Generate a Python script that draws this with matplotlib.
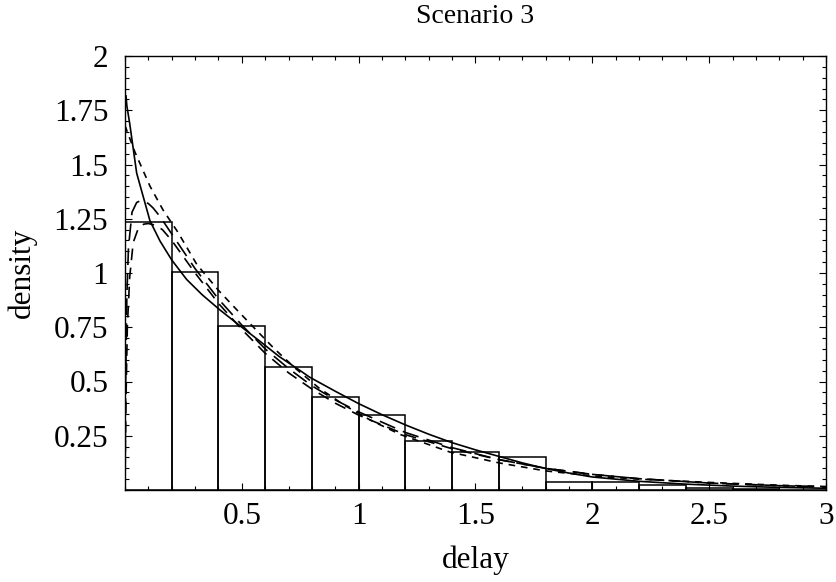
import matplotlib
matplotlib.use("Agg")
import matplotlib.pyplot as plt
from matplotlib.ticker import MultipleLocator, FixedLocator

# Histogram (bin edges and heights)
bin_edges = [0.0, 0.2, 0.4, 0.6, 0.8, 1.0, 1.2, 1.4, 1.6, 1.8, 2.0, 2.2, 2.4, 2.6, 2.8, 3.0]
bin_heights = [1.235, 1.005, 0.757, 0.565, 0.43, 0.345, 0.225, 0.177, 0.153, 0.037, 0.037, 0.025, 0.008, 0.006, 0.0]

# Solid curve
solid_x = [0.004, 0.008, 0.02, 0.05, 0.107, 0.15, 0.2, 0.264, 0.33, 0.406, 0.5, 0.578, 0.66, 0.75, 0.79, 0.9, 1.0, 1.1, 1.2, 1.3, 1.4, 1.5, 1.6, 1.7, 1.8, 1.9, 2.0, 2.2, 2.4, 2.6, 2.8, 3.0]
solid_y = [1.82, 1.77, 1.69, 1.46, 1.24, 1.147, 1.06, 0.97, 0.90, 0.83, 0.75, 0.685, 0.615, 0.55, 0.52, 0.455, 0.398, 0.347, 0.30, 0.257, 0.218, 0.185, 0.155, 0.125, 0.099, 0.078, 0.06, 0.04, 0.027, 0.018, 0.012, 0.008]

# Short-dashed curve
sdash_x = [0.0, 0.01, 0.043, 0.107, 0.163, 0.227, 0.307, 0.4, 0.47, 0.55, 0.64, 0.73, 0.83, 0.94, 1.05, 1.18, 1.39, 1.6, 1.8, 2.03, 2.2, 2.5, 2.8, 3.0]
sdash_y = [1.68, 1.65, 1.556, 1.40, 1.29, 1.187, 1.04, 0.92, 0.84, 0.75, 0.65, 0.56, 0.47, 0.39, 0.322, 0.255, 0.175, 0.125, 0.088, 0.062, 0.05, 0.035, 0.022, 0.016]

# Long-dashed curve (hump)
ldash_x = [0.0, 0.003, 0.008, 0.015, 0.03, 0.05, 0.07, 0.1, 0.12, 0.15, 0.2, 0.3, 0.4, 0.5, 0.6, 0.7, 0.8, 0.9, 1.0, 1.2, 1.4, 1.6, 1.8, 2.0, 2.2, 2.5, 2.8, 3.0]
ldash_y = [0.0, 0.5, 0.9, 1.12, 1.28, 1.325, 1.335, 1.32, 1.30, 1.26, 1.18, 1.02, 0.88, 0.76, 0.65, 0.56, 0.48, 0.415, 0.36, 0.265, 0.195, 0.14, 0.1, 0.072, 0.052, 0.032, 0.02, 0.014]

# Medium-dashed curve (lower hump)
mdash_x = [0.0, 0.003, 0.01, 0.02, 0.035, 0.055, 0.08, 0.1, 0.13, 0.16, 0.2, 0.3, 0.4, 0.5, 0.6, 0.7, 0.8, 0.9, 1.0, 1.2, 1.4, 1.6, 1.8, 2.0, 2.2, 2.5, 2.8, 3.0]
mdash_y = [0.0, 0.35, 0.75, 0.98, 1.14, 1.2, 1.225, 1.228, 1.22, 1.2, 1.15, 1.0, 0.86, 0.74, 0.63, 0.54, 0.465, 0.4, 0.345, 0.255, 0.19, 0.14, 0.1, 0.072, 0.052, 0.032, 0.02, 0.014]

x_ticks = [0.5, 1, 1.5, 2, 2.5, 3]
x_ticklabels = ["0.5", "1", "1.5", "2", "2.5", "3"]
y_ticks = [0.25, 0.5, 0.75, 1, 1.25, 1.5, 1.75, 2]
y_ticklabels = ["0.25", "0.5", "0.75", "1", "1.25", "1.5", "1.75", "2"]

plt.rcParams['font.family'] = ['Liberation Serif', 'DejaVu Serif']

fig = plt.figure(figsize=(8.37, 5.82), dpi=100)
ax = fig.add_axes([125/837, 1 - 490/582, (826 - 125)/837, (490 - 56)/582])

widths = [bin_edges[i + 1] - bin_edges[i] for i in range(len(bin_heights))]
ax.bar(bin_edges[:-1], bin_heights, width=widths, align='edge', fill=False,
       edgecolor='black', linewidth=1.1)

lw = 1.2
ax.plot(solid_x, solid_y, color='black', lw=lw, solid_capstyle='butt')
ax.plot(sdash_x, sdash_y, color='black', lw=lw, dashes=(4, 3.5))
ax.plot(ldash_x, ldash_y, color='black', lw=lw, dashes=(10, 5))
ax.plot(mdash_x, mdash_y, color='black', lw=lw, dashes=(7, 4.5))

ax.set_xlim(0, 3)
ax.set_ylim(0, 2)

ax.xaxis.set_major_locator(FixedLocator(x_ticks))
ax.set_xticklabels(x_ticklabels)
ax.yaxis.set_major_locator(FixedLocator(y_ticks))
ax.set_yticklabels(y_ticklabels)
ax.xaxis.set_minor_locator(MultipleLocator(0.1))
ax.yaxis.set_minor_locator(MultipleLocator(0.05))

ax.tick_params(which='both', direction='in', top=True, right=True, width=0.8)
ax.tick_params(which='major', length=5, labelsize=22.5)
ax.tick_params(axis='x', which='major', pad=9)
ax.tick_params(axis='y', which='major', pad=12)
ax.tick_params(which='minor', length=3)
for s in ax.spines.values():
    s.set_linewidth(1.0)

ax.set_xlabel("delay", fontsize=22.5, labelpad=10)
ax.set_ylabel("density", fontsize=22.5, labelpad=12)
ax.set_title("Scenario 3", fontsize=20, pad=24)

fig.savefig("out.png", dpi=100)
